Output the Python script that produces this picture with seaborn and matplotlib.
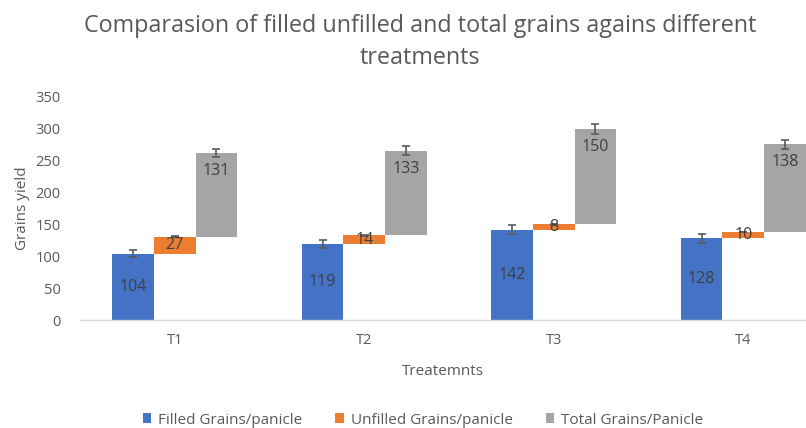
import numpy as np
import matplotlib
matplotlib.use("Agg")
import matplotlib.pyplot as plt
import seaborn as sns
from matplotlib.patches import Patch

categories = ["T1", "T2", "T3", "T4"]
filled = [104, 119, 142, 128]
unfilled = [27, 14, 8, 10]
total = [131, 133, 150, 138]
filled_err = [5.2, 6.0, 7.1, 6.4]
unfilled_err = [1.4, 0.7, 0.4, 0.5]
total_err = [6.6, 6.7, 7.5, 6.9]
series_names = ["Filled Grains/panicle", "Unfilled Grains/panicle", "Total Grains/Panicle"]
colors = ["#4472C4", "#ED7D31", "#A5A5A5"]

sns.set_theme(style="white")
plt.rcParams['font.family'] = ['Open Sans', 'DejaVu Sans']

fig = plt.figure(figsize=(8.06, 4.28), dpi=100)
ax = fig.add_axes([80/806, 108/428, 1 - 80/806, (320-97)/428])

x = np.arange(len(categories))
w = 0.22
txt_c = "#404040"
grey_c = "#595959"

filled_a = np.array(filled, float)
unfilled_a = np.array(unfilled, float)
total_a = np.array(total, float)

bottoms = [np.zeros(4), filled_a, filled_a + unfilled_a]
heights = [filled_a, unfilled_a, total_a]
errs = [filled_err, unfilled_err, total_err]
offsets = [-w, 0, w]

for i, (b, h, e, off, c) in enumerate(zip(bottoms, heights, errs, offsets, colors)):
    ax.bar(x + off, h, w, bottom=b, color=c, edgecolor="none", zorder=2)
    ax.errorbar(x + off, b + h, yerr=e, fmt="none", ecolor="#595959",
                elinewidth=1.2, capsize=3, capthick=1.2, zorder=3)
    for xi, bi, hi in zip(x + off, b, h):
        if i == 2:
            ax.annotate(f"{int(hi)}", (xi, bi + hi), xytext=(0, -13), textcoords="offset points",
                        ha="center", va="center", fontsize=11.5, color=txt_c, zorder=4)
        else:
            ax.text(xi, bi + hi / 2, f"{int(hi)}", ha="center", va="center",
                    fontsize=11.5, color=txt_c, zorder=4)

ax.set_yticks(range(0, 351, 50))
ax.set_xticks(x)
ax.set_xticklabels(categories)
ax.set_xticks(np.arange(-0.5, 4.0, 1.0), minor=True)
ax.set_ylim(0, 350)
ax.set_xlim(-0.5, 3.5 - 32/189.7)
ax.tick_params(axis="x", which="major", length=0, labelsize=10.5, labelcolor=grey_c, pad=9)
ax.tick_params(axis="x", which="minor", length=5, color="#D9D9D9", width=1, direction="out")
ax.tick_params(axis="y", length=0, labelsize=10.5, labelcolor=grey_c, pad=14)

for s in ["top", "right", "left"]:
    ax.spines[s].set_visible(False)
ax.spines["bottom"].set_color("#D9D9D9")
ax.spines["bottom"].set_linewidth(1)
ax.grid(False)

ax.set_xlabel("Treatemnts", fontsize=11, color=grey_c, labelpad=12)
ax.set_ylabel("Grains yield", fontsize=11, color=grey_c, labelpad=4)

fig.text(420/806, 1 - 42/428, "Comparasion of filled unfilled and total grains agains different\ntreatments",
         ha="center", va="center", fontsize=16.8, color=grey_c, linespacing=1.45)

handles = [Patch(facecolor=c, edgecolor="none") for c in colors]
fig.legend(handles, series_names, loc="center", bbox_to_anchor=(423/806, 1 - 420/428),
           ncol=3, frameon=False, fontsize=11, handlelength=0.55, handleheight=0.55,
           columnspacing=2.15, handletextpad=0.45, labelcolor=grey_c)

fig.savefig("out.png", dpi=100)
